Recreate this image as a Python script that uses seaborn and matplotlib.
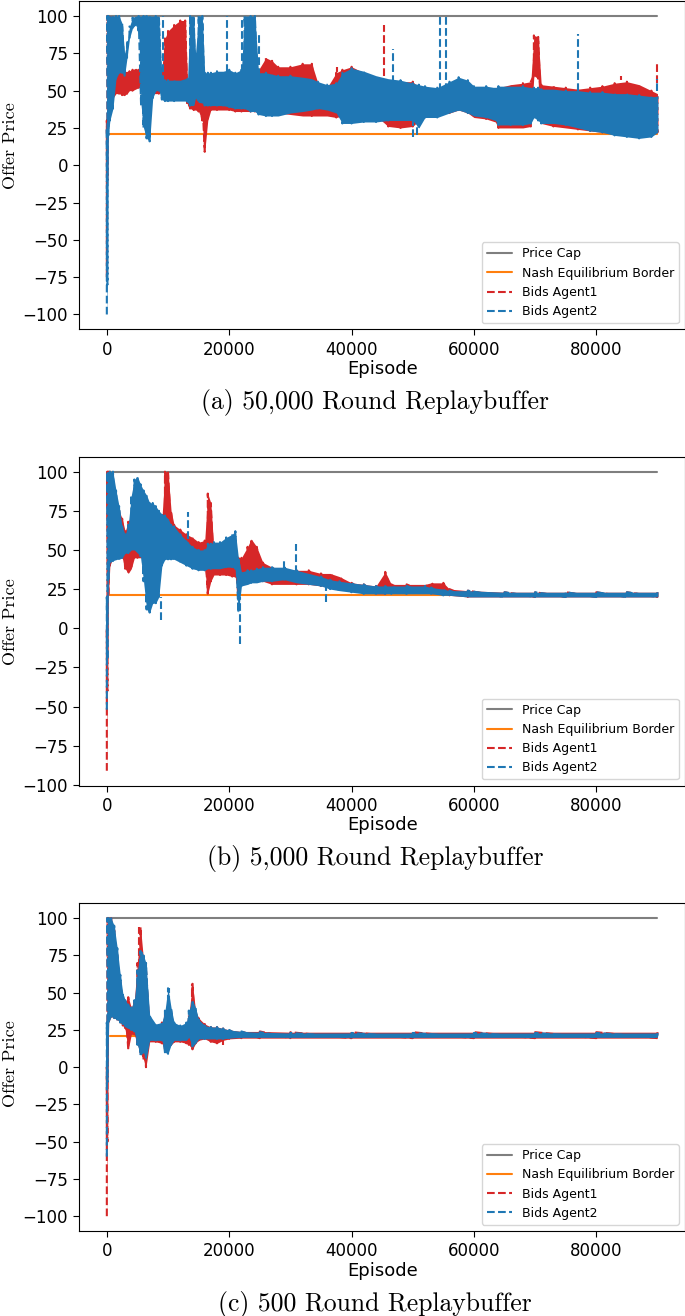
import numpy as np
import pandas as pd
import matplotlib
matplotlib.use("Agg")
import matplotlib.pyplot as plt
import seaborn as sns

sns.set_style("ticks", {"axes.edgecolor": "black", "xtick.color": "black",
                        "ytick.color": "black", "axes.labelcolor": "black",
                        "text.color": "black"})
plt.rcParams["font.family"] = ["DejaVu Sans"]

PRICE_CAP = 100
NASH = 21
EP_END = 90000

# ---- (a) 50,000 round replay buffer : envelope of the bids ----
a_ep = [0, 100, 250, 500, 1000, 1500, 2000, 2500, 2900, 3300, 3700, 4200, 4700, 5200,
        5600, 6000, 6500, 7000, 7500, 8000, 8500, 9000, 9500, 10000, 11000, 12000,
        12800, 13200, 13600, 14200, 14500, 15000, 15600, 16000, 16500, 17000, 18000,
        19000, 20000, 21000, 22000, 22500, 23500, 24200, 24800, 26000, 27000, 28000,
        30000, 32000, 33500, 34500, 36000, 37500, 38500, 40000, 42000, 44000, 46000,
        48000, 50000, 51000, 52000, 54000, 56000, 57500, 59000, 60000, 62000, 63500,
        64000, 66000, 68000, 69300, 69800, 70500, 71000, 73000, 75000, 77000, 79000,
        81000, 83000, 85000, 87000, 89000, 90000]
a_blue_lo = [-100, -80, 20, 30, 38, 58, 62, 62, 60, 72, 85, 92, 94, 90,
             40, 25, 18, 16, 45, 50, 50, 44, 43, 43, 43, 43,
             43, 42, 40, 40, 45, 42, 42, 40, 40, 40, 40,
             40, 39, 38, 38, 38, 36, 36, 34, 33, 33, 33,
             35, 36, 37, 38, 37, 35, 28, 28, 29, 29, 30,
             30, 30, 25, 32, 32, 35, 37, 35, 33, 32, 30,
             27, 27, 27, 28, 32, 30, 28, 28, 27, 25, 23,
             22, 20, 19, 18, 19, 22]
a_blue_hi = [25, 100, 100, 100, 100, 100, 100, 95, 75, 82, 93, 99, 100, 100,
             100, 100, 100, 100, 100, 100, 100, 58, 57, 57, 57, 57,
             58, 58, 100, 100, 75, 100, 100, 62, 62, 62, 63,
             63, 64, 62, 64, 100, 100, 100, 62, 62, 61, 60,
             60, 59, 58, 56, 54, 55, 62, 65, 63, 60, 58,
             57, 55, 54, 53, 52, 56, 59, 57, 53, 53, 52,
             53, 53, 53, 52, 52, 52, 51, 51, 50, 50, 49,
             49, 48, 48, 47, 46, 46]
a_red_lo = [-75, -10, 30, 35, 45, 48, 48, 47, 47, 48, 50, 50, 51, 52,
            52, 50, 50, 48, 48, 48, 48, 50, 55, 55, 55, 55,
            50, 40, 38, 37, 37, 36, 30, 9, 30, 37, 37,
            37, 37, 36, 36, 36, 36, 36, 36, 36, 35, 35,
            34, 33, 33, 33, 33, 32, 33, 33, 33, 33, 26,
            25, 26, 30, 32, 34, 35, 37, 35, 32, 31, 29,
            25, 25, 25, 26, 60, 58, 28, 26, 25, 24, 23,
            22, 21, 20, 20, 20, 22]
a_red_hi = [30, 100, 100, 100, 100, 64, 64, 63, 63, 62, 63, 64, 65, 64,
            64, 62, 62, 62, 62, 62, 62, 65, 85, 90, 94, 97,
            97, 55, 48, 47, 47, 47, 46, 46, 46, 47, 47,
            47, 47, 47, 48, 48, 50, 55, 64, 72, 70, 66,
            66, 68, 68, 55, 52, 62, 64, 66, 62, 58, 56,
            56, 56, 52, 50, 50, 52, 54, 53, 52, 52, 52,
            52, 54, 55, 56, 87, 86, 54, 53, 52, 51, 52,
            53, 55, 56, 54, 50, 48]
a_blue_spk_ep = [9100, 19700, 22100, 24900, 46700, 50100, 50700, 54400, 55500, 77000, 90000]
a_blue_spk_lo = [55, 55, 55, 60, 55, 19, 20, 50, 50, 50, 50]
a_blue_spk_hi = [100, 100, 97, 89, 78, 35, 40, 100, 100, 88, 58]
a_red_spk_ep = [37600, 45300, 84000, 90000]
a_red_spk_lo = [55, 60, 50, 55]
a_red_spk_hi = [66, 94, 60, 69]

# ---- (b) 5,000 round replay buffer ----
b_ep = [0, 100, 250, 500, 1000, 1500, 2000, 2500, 3000, 3500, 4000, 4500, 5000, 5500,
        6000, 6500, 7000, 7500, 8000, 8500, 9000, 9500, 10000, 10500, 11000, 12000,
        13000, 14000, 15000, 16000, 16500, 17000, 17500, 18500, 19500, 20500, 21000,
        21500, 22000, 23000, 23600, 24500, 25500, 27000, 29000, 31000, 33000, 35000,
        36500, 38000, 40000, 42000, 44000, 45500, 46500, 49000, 52000, 53000, 55000,
        56000, 59000, 65000, 70000, 75000, 80000, 85000, 90000]
b_blue_lo = [-52, -20, 30, 42, 43, 44, 44, 45, 48, 48, 50, 50, 48, 46,
             30, 12, 10, 16, 16, 20, 40, 44, 44, 44, 44, 42,
             40, 38, 37, 37, 38, 38, 38, 38, 39, 39, 38,
             10, 27, 28, 29, 29, 30, 30, 31, 29, 28, 27,
             25, 24, 23, 22, 22, 22, 22, 22, 22, 22, 21,
             21, 20, 20, 20, 20, 20, 20, 20]
b_blue_hi = [20, 100, 100, 100, 100, 88, 78, 65, 60, 66, 85, 95, 97, 92,
             88, 85, 80, 80, 78, 75, 73, 72, 70, 66, 65, 60,
             56, 52, 50, 50, 54, 54, 55, 55, 58, 60, 62,
             45, 36, 37, 37, 38, 39, 39, 39, 37, 35, 33,
             31, 30, 29, 28, 27, 27, 27, 27, 27, 26, 25,
             24, 24, 23, 23, 23, 23, 23, 23]
b_red_lo = [-91, -40, 20, 40, 45, 45, 45, 45, 38, 35, 38, 45, 45, 45,
            45, 45, 45, 45, 45, 45, 45, 65, 65, 60, 48, 47,
            46, 45, 44, 38, 22, 30, 34, 34, 34, 33, 33,
            20, 35, 35, 35, 35, 30, 28, 28, 28, 28, 27,
            27, 28, 24, 23, 22, 22, 23, 23, 23, 22, 22,
            21, 20, 20, 20, 20, 20, 20, 20]
b_red_hi = [0, 100, 100, 100, 95, 80, 75, 70, 62, 68, 72, 72, 72, 70,
            74, 74, 75, 80, 74, 72, 70, 100, 100, 75, 66, 63,
            60, 58, 55, 56, 86, 80, 50, 48, 48, 47, 45,
            45, 45, 52, 57, 52, 42, 39, 38, 37, 37, 35,
            35, 33, 29, 28, 27, 36, 28, 28, 28, 29, 29,
            25, 24, 23, 23, 23, 23, 23, 23]
b_blue_spk_ep = [8900, 13200, 21700, 29000, 31000, 35900]
b_blue_spk_lo = [5, 50, -10, 38, 35, 17]
b_blue_spk_hi = [20, 74, 20, 44, 54, 28]
b_red_spk_ep = [7250]
b_red_spk_lo = [60]
b_red_spk_hi = [80]

# ---- (c) 500 round replay buffer ----
c_ep = [0, 100, 300, 700, 1200, 1700, 2200, 2600, 3000, 3500, 4000, 4500, 5000, 5500,
        6000, 6400, 7000, 8000, 9000, 9500, 10000, 10500, 11000, 12000, 13000, 13400,
        14000, 14500, 15000, 16000, 17000, 18000, 19000, 20000, 22000, 25000, 30000,
        40000, 50000, 60000, 70000, 80000, 90000]
c_blue_lo = [-60, -10, 30, 34, 33, 32, 30, 29, 27, 26, 25, 24, 15, 8,
             10, 5, 18, 18, 18, 10, 9, 15, 18, 18, 18, 20,
             14, 16, 19, 19, 19, 19, 19, 19.5, 20, 20, 20,
             20, 20, 20, 20, 20, 20]
c_blue_hi = [30, 100, 100, 100, 95, 80, 62, 50, 45, 42, 40, 45, 65, 78,
             75, 70, 35, 29, 30, 38, 53, 40, 30, 28, 30, 38,
             45, 40, 32, 28, 27, 27, 26, 25, 24, 23.5, 23,
             23, 23, 23, 23, 23, 23]
c_red_lo = [-100, -50, 30, 34, 33, 32, 30, 28, 25, 12, 22, 22, 15, 10,
            5, 0, 17, 17, 16, 12, 12, 15, 17, 17, 16, 15,
            12, 16, 18, 19, 17, 16, 18, 19, 19.5, 19.5, 19.5,
            19.5, 19.5, 19.5, 19.5, 19.5, 19.5]
c_red_hi = [0, 100, 100, 100, 92, 75, 58, 48, 44, 47, 40, 45, 70, 94,
            72, 65, 33, 28, 30, 36, 45, 38, 28, 27, 29, 35,
            56, 38, 33, 29, 27, 27, 26, 25, 24, 24, 23.5,
            23.5, 23.5, 23.5, 23.5, 23.5, 23.5]
c_blue_spk_ep = [5800, 10200]
c_blue_spk_lo = [50, 35]
c_blue_spk_hi = [78, 53]
c_red_spk_ep = [5300, 14000, 19000]
c_red_spk_lo = [60, 40, 15]
c_red_spk_hi = [94, 56, 22]

panels = [
    ("(a) 50,000 Round Replaybuffer", a_ep, a_red_lo, a_red_hi, a_blue_lo, a_blue_hi,
     (a_red_spk_ep, a_red_spk_lo, a_red_spk_hi), (a_blue_spk_ep, a_blue_spk_lo, a_blue_spk_hi)),
    ("(b) 5,000 Round Replaybuffer", b_ep, b_red_lo, b_red_hi, b_blue_lo, b_blue_hi,
     (b_red_spk_ep, b_red_spk_lo, b_red_spk_hi), (b_blue_spk_ep, b_blue_spk_lo, b_blue_spk_hi)),
    ("(c) 500 Round Replaybuffer", c_ep, c_red_lo, c_red_hi, c_blue_lo, c_blue_hi,
     (c_red_spk_ep, c_red_spk_lo, c_red_spk_hi), (c_blue_spk_ep, c_blue_spk_lo, c_blue_spk_hi)),
]

# axes boxes in pixels: top, bottom ; caption centre y
W, H = 685, 1316
boxes = [(1.1, 329.4, 402), (456.7, 785.7, 859), (903.3, 1231.1, 1305)]
ylab_y = [0.56, 0.50, 0.51]

RED, BLUE = "#d62728", "#1f77b4"


def draw_bids(ax, ep, lo, hi, spikes, color, label, z):
    ep = np.asarray(ep, float)
    lo = np.asarray(lo, float)
    hi = np.asarray(hi, float)
    ax.fill_between(ep, lo, hi, color=color, lw=0, zorder=z)
    # oscillating bids: alternate between the low and high value at each episode
    df = pd.DataFrame({"ep": np.repeat(ep, 2),
                       "bid": np.column_stack([lo, hi]).ravel()})
    sns.lineplot(data=df, x="ep", y="bid", ax=ax, color=color, lw=1.5,
                 linestyle="--", estimator=None, sort=False, label=label,
                 zorder=z + 0.1)
    ax.vlines(spikes[0], spikes[1], spikes[2], colors=color, linestyles="--",
              lw=1.5, zorder=z + 0.1)


fig = plt.figure(figsize=(W / 100, H / 100), dpi=100)

for i, (cap, ep, rlo, rhi, blo, bhi, rspk, bspk) in enumerate(panels):
    top, bot, cap_y = boxes[i]
    ax = fig.add_axes([79.3 / W, 1 - bot / H, (685.0 - 79.3) / W, (bot - top) / H])
    sns.lineplot(x=[0, EP_END], y=[PRICE_CAP, PRICE_CAP], ax=ax, color="#7f7f7f",
                 lw=1.5, label="Price Cap", zorder=1.5)
    sns.lineplot(x=[500, EP_END], y=[NASH, NASH], ax=ax, color="#ff7f0e",
                 lw=1.5, label="Nash Equilibrium Border", zorder=1.5)
    draw_bids(ax, ep, rlo, rhi, rspk, RED, "Bids Agent1", 2.0)
    draw_bids(ax, ep, blo, bhi, bspk, BLUE, "Bids Agent2", 2.5)

    ax.set_xticks([0, 20000, 40000, 60000, 80000])
    ax.set_yticks(np.arange(-100, 101, 25))
    ax.tick_params(labelsize=12, length=4.5, width=0.8)
    ax.set_xlabel("Episode", fontsize=13, labelpad=1)
    ax.set_ylabel("Offer Price", fontsize=13, family="cmr10")
    ax.yaxis.set_label_coords(-0.102, ylab_y[i])
    for s in ax.spines.values():
        s.set_linewidth(0.8)
    leg = ax.legend(loc="lower right", fontsize=9)
    leg.set_zorder(5)
    fig.text(375 / W, 1 - cap_y / H, cap, ha="center", va="center",
             fontsize=18.5, family="cmr10")

fig.savefig("out.png", dpi=100)
